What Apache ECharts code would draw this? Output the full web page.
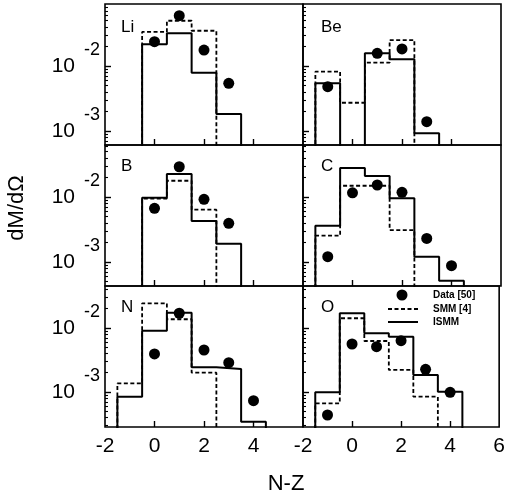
<!DOCTYPE html>
<html>
<head>
<meta charset="utf-8">
<script src="https://cdn.jsdelivr.net/npm/echarts@6/dist/echarts.min.js"></script>
<style>
  html, body { margin: 0; padding: 0; background: #fff; }
  #chart { width: 508px; height: 502px; }
</style>
</head>
<body>
<div id="chart"></div>
<script>
// N-Z bin centres shared by every panel (null = no entry in that bin)
const nz = [-1, 0, 1, 2, 3, 4];
const panelNames = ['Li', 'Be', 'B', 'C', 'N', 'O'];

// measured yields
const dataLi = [null, 0.0237, 0.0594, 0.0176, 0.00542, null];
const dataBe = [0.00481, null, 0.0157, 0.0183, 0.00139, null];
const dataB  = [null, 0.0067, 0.0292, 0.0092, 0.00394, null];
const dataC  = [0.00121, 0.0116, 0.0153, 0.0118, 0.00231, 0.000877];
const dataN  = [null, 0.00393, 0.017, 0.00453, 0.00287, 0.000731];
const dataO  = [0.000437, 0.00562, 0.0051, 0.00634, 0.00226, 0.000988];

// SMM predictions
const smmLi = [null, 0.0334, 0.0497, 0.0349, null, null];
const smmBe = [0.00818, 0.00272, 0.01125, 0.0251, null, null];
const smmB  = [null, 0.00942, 0.0178, 0.00638, null, null];
const smmC  = [0.00254, 0.0149, 0.0149, 0.0031, null, null];
const smmN  = [0.00136, 0.0243, 0.0137, 0.002, null, null];
const smmO  = [0.000665, 0.0142, 0.00626, 0.00221, 0.000845, null];

// ISMM predictions
const ismmLi = [null, 0.0216, 0.0318, 0.00789, 0.00183, null];
const ismmBe = [0.00542, null, 0.0157, 0.0127, 0.000923, null];
const ismmB  = [null, 0.00977, 0.0226, 0.00428, 0.00191, null];
const ismmC  = [0.00362, 0.0279, 0.021, 0.00955, 0.00121, 0.000515];
const ismmN  = [0.000845, 0.00908, 0.0173, 0.00243, 0.00229, 0.000344];
const ismmO  = [0.000988, 0.017, 0.00826, 0.00732, 0.00185, 0.00101];

// axis settings
const xTicks = [-2, 0, 2, 4, 6];
const yMajor = [0.001, 0.01, 0.1];
const yMinor = [2, 3, 4, 5, 6, 7, 8, 9].flatMap(m => [m * 1e-4, m * 1e-3, m * 1e-2]);
const rowLogRange = [[-3.215, -1.046], [-3.369, -1.2], [-3.547, -1.344]];

const panelData = [dataLi, dataBe, dataB, dataC, dataN, dataO];
const panelSmm = [smmLi, smmBe, smmB, smmC, smmN, smmO];
const panelIsmm = [ismmLi, ismmBe, ismmB, ismmC, ismmN, ismmO];

const FONT = '"Liberation Sans", Arial, Helvetica, sans-serif';
const FLOOR = 1e-5; // below every axis minimum, so the outline runs off the bottom edge

// histogram outline from bin contents (edges at the half-integers)
function stepOutline(vals) {
  let first = -1, last = -1;
  vals.forEach((v, i) => { if (v != null) { if (first < 0) first = i; last = i; } });
  const pts = [[nz[first] - 0.5, FLOOR]];
  for (let i = first; i <= last; i++) {
    const v = vals[i] == null ? FLOOR : vals[i];
    pts.push([nz[i] - 0.5, v], [nz[i] + 0.5, v]);
  }
  pts.push([nz[last] + 0.5, FLOOR]);
  return pts;
}

function points(vals) {
  const out = [];
  vals.forEach((v, i) => { if (v != null) out.push([nz[i], v]); });
  return out;
}

const colLeft = [105, 303];
const rowTop = [4, 145, 286];
const W = 198, H = 141;

const grid = [], xAxis = [], yAxis = [], series = [], graphic = [];

panelNames.forEach((name, i) => {
  const col = i % 2, row = Math.floor(i / 2);
  const [lo, hi] = rowLogRange[row];
  grid.push({
    left: colLeft[col], top: rowTop[row], width: W, height: H,
    show: true, borderColor: '#000', borderWidth: 1.6, backgroundColor: 'transparent'
  });
  xAxis.push({
    gridIndex: i, type: 'value', min: -2, max: 6, interval: 2, position: 'bottom',
    axisLine: { show: false, onZero: false },
    splitLine: { show: false },
    axisTick: { show: true, inside: true, length: 6, lineStyle: { color: '#000', width: 1.4 }, customValues: [0, 2, 4] },
    axisLabel: {
      show: row === 2,
      customValues: col === 0 ? xTicks.slice(0, 4) : xTicks,
      color: '#000', fontSize: 21, fontFamily: FONT, margin: 9
    }
  });
  const yBase = {
    gridIndex: i, type: 'log', position: 'left',
    min: Math.pow(10, lo), max: Math.pow(10, hi),
    axisLine: { show: false, onZero: false }, splitLine: { show: false }
  };
  // decade ticks, with the "10" part of each label
  yAxis.push(Object.assign({}, yBase, {
    axisTick: { show: true, inside: true, length: 6, lineStyle: { color: '#000', width: 1.4 }, customValues: yMajor },
    axisLabel: {
      show: col === 0,
      customValues: yMajor,
      margin: 30,
      formatter: () => '10',
      color: '#000', fontSize: 21, fontFamily: FONT
    }
  }));
  // 2..9 ticks between decades, with the exponents raised above the "10"
  yAxis.push(Object.assign({}, yBase, {
    axisTick: { show: true, inside: true, length: 3, lineStyle: { color: '#000', width: 1.1 }, customValues: yMinor },
    axisLabel: {
      show: col === 0,
      customValues: yMajor,
      margin: 5,
      formatter: v => String(Math.round(Math.log10(v))),
      color: '#000', fontSize: 18, fontFamily: FONT,
      verticalAlign: 'bottom', padding: [0, 0, 7, 0]
    }
  }));

  series.push({
    name: 'SMM [4]', type: 'line', xAxisIndex: i, yAxisIndex: 2 * i,
    data: stepOutline(panelSmm[i]), symbol: 'none', clip: true, silent: true,
    lineStyle: { color: '#000', width: 1.8, type: [4, 2.5] }, z: 2
  });
  series.push({
    name: 'ISMM', type: 'line', xAxisIndex: i, yAxisIndex: 2 * i,
    data: stepOutline(panelIsmm[i]), symbol: 'none', clip: true, silent: true,
    lineStyle: { color: '#000', width: 2 }, z: 3
  });
  series.push({
    name: 'Data [50]', type: 'scatter', xAxisIndex: i, yAxisIndex: 2 * i,
    data: points(panelData[i]), symbol: 'circle', symbolSize: 11,
    itemStyle: { color: '#000', opacity: 1 }, z: 4
  });

  graphic.push({
    type: 'text', x: colLeft[col] + (col === 0 ? 16 : 18), y: rowTop[row] + (row === 0 ? 23 : 21),
    style: { text: name, font: '17px ' + FONT, fill: '#000', textVerticalAlign: 'middle', verticalAlign: 'middle' }
  });
});

// key in the O panel
const keyText = { font: 'bold 10px ' + FONT, fill: '#000', textVerticalAlign: 'middle', verticalAlign: 'middle' };
graphic.push(
  { type: 'circle', shape: { cx: 402, cy: 295, r: 5.5 }, style: { fill: '#000' } },
  { type: 'text', x: 433, y: 295, style: Object.assign({ text: 'Data [50]' }, keyText) },
  { type: 'line', shape: { x1: 388, y1: 309, x2: 418, y2: 309 }, style: { stroke: '#000', lineWidth: 1.8, lineDash: [4, 2.5] } },
  { type: 'text', x: 433, y: 309, style: Object.assign({ text: 'SMM [4]' }, keyText) },
  { type: 'line', shape: { x1: 388, y1: 322, x2: 418, y2: 322 }, style: { stroke: '#000', lineWidth: 2 } },
  { type: 'text', x: 433, y: 322, style: Object.assign({ text: 'ISMM' }, keyText) }
);

graphic.push({
  type: 'text', x: 286, y: 484,
  style: { text: 'N-Z', font: '22px ' + FONT, fill: '#000', textAlign: 'center', align: 'center', textVerticalAlign: 'middle', verticalAlign: 'middle' }
});
graphic.push({
  type: 'text', x: 17, y: 208, rotation: Math.PI / 2,
  style: { text: 'dM/d\u03A9', font: '22px ' + FONT, fill: '#000', textAlign: 'center', align: 'center', textVerticalAlign: 'middle', verticalAlign: 'middle' }
});

const chart = echarts.init(document.getElementById('chart'), null, { renderer: 'canvas' });
chart.setOption({
  animation: false,
  backgroundColor: '#fff',
  grid, xAxis, yAxis, series, graphic
});
</script>
</body>
</html>
